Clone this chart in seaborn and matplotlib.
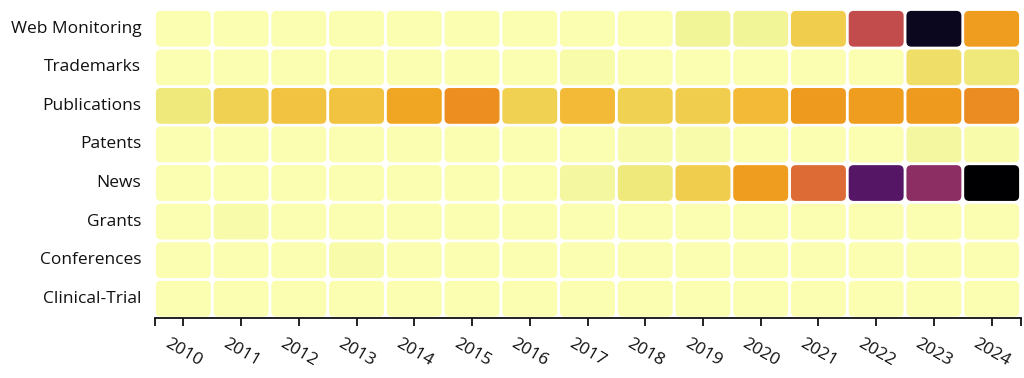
import numpy as np
import pandas as pd
import matplotlib
matplotlib.use("Agg")
import matplotlib.pyplot as plt
import seaborn as sns
from matplotlib.colors import ListedColormap
from matplotlib.patches import FancyBboxPatch

years = [2010, 2011, 2012, 2013, 2014, 2015, 2016, 2017, 2018, 2019, 2020, 2021, 2022, 2023, 2024]
categories = ["Web Monitoring", "Trademarks", "Publications", "Patents",
              "News", "Grants", "Conferences", "Clinical-Trial"]

web_monitoring = [0, 0, 0, 0, 0, 0, 0, 0, 0, 3, 3, 12, 44, 94, 22]
trademarks     = [0, 0, 0, 0, 0, 0, 0, 1, 0, 0, 0, 0, 0, 8, 6]
publications   = [6, 11, 14, 14, 20, 25, 11, 16, 11, 12, 16, 23, 22, 23, 26]
patents        = [0, 0, 0, 0, 0, 0, 0, 0, 1, 1, 0, 0, 0, 2, 1]
news           = [0, 0, 0, 0, 0, 0, 0, 2, 6, 12, 22, 34, 74, 59, 100]
grants         = [0, 1, 0, 0, 0, 0, 0, 0, 0, 0, 0, 0, 0, 0, 0]
conferences    = [0, 0, 0, 1, 0, 0, 0, 0, 0, 0, 0, 0, 0, 0, 0]
clinical_trial = [0, 0, 0, 0, 0, 0, 0, 0, 0, 0, 0, 0, 0, 0, 0]

df = pd.DataFrame([web_monitoring, trademarks, publications, patents,
                   news, grants, conferences, clinical_trial],
                  index=categories, columns=years)

# muted inferno (reversed): pull colours slightly toward their luminance
base = plt.get_cmap("inferno_r")(np.linspace(0, 1, 256))[:, :3]
lum = (base @ np.array([0.3, 0.59, 0.11]))[:, None]
muted = np.clip(lum + 0.85 * (base - lum), 0, 1)
cmap = ListedColormap(muted)

sns.set_theme(style="white")
plt.rcParams["font.family"] = ["Open Sans", "DejaVu Sans"]

W, H = 1024, 378
fig = plt.figure(figsize=(W / 100, H / 100), dpi=100)
left, right, top, bottom = 154.5, 1020.5, 9.5, 318.0
ax = fig.add_axes([left / W, 1 - bottom / H, (right - left) / W, (bottom - top) / H])

sns.heatmap(df, cmap=cmap, vmin=0, vmax=100, cbar=False, ax=ax)
mesh = ax.collections[0]
rgba = mesh.to_rgba(df.values)
mesh.set_visible(False)

px_x = (right - left) / len(years)
px_y = (bottom - top) / len(categories)
aspect = px_x / px_y
padx = 1.4 / px_x
pady = 1.4 / px_y
r = 5.0 / px_x
for i in range(df.shape[0]):
    for j in range(df.shape[1]):
        p = FancyBboxPatch((j + padx, i + pady), 1 - 2 * padx, 1 - 2 * pady,
                           boxstyle=f"round,pad=0,rounding_size={r}",
                           mutation_aspect=aspect,
                           facecolor=rgba[i, j], edgecolor="none")
        ax.add_patch(p)

for s in ["top", "right", "left"]:
    ax.spines[s].set_visible(False)
ax.spines["bottom"].set_visible(True)
ax.spines["bottom"].set_color("#111111")
ax.spines["bottom"].set_linewidth(1.3)

ax.set_xticks(np.arange(len(years)) + 0.5)
ax.set_xticklabels([str(y) for y in years], rotation=-30, ha="center", va="top",
                   fontsize=12.5, color="#111111")
ax.set_xticks([0, len(years)], minor=True)
ax.tick_params(axis="x", which="both", bottom=True, length=6, width=1.3,
               color="#111111", pad=7)
ax.set_yticklabels(categories, rotation=0, fontsize=12.5, color="#111111")
ax.tick_params(axis="y", length=0, pad=9.5)
ax.set_xlabel("")
ax.set_ylabel("")

fig.savefig("out.png", dpi=100, facecolor="white")
